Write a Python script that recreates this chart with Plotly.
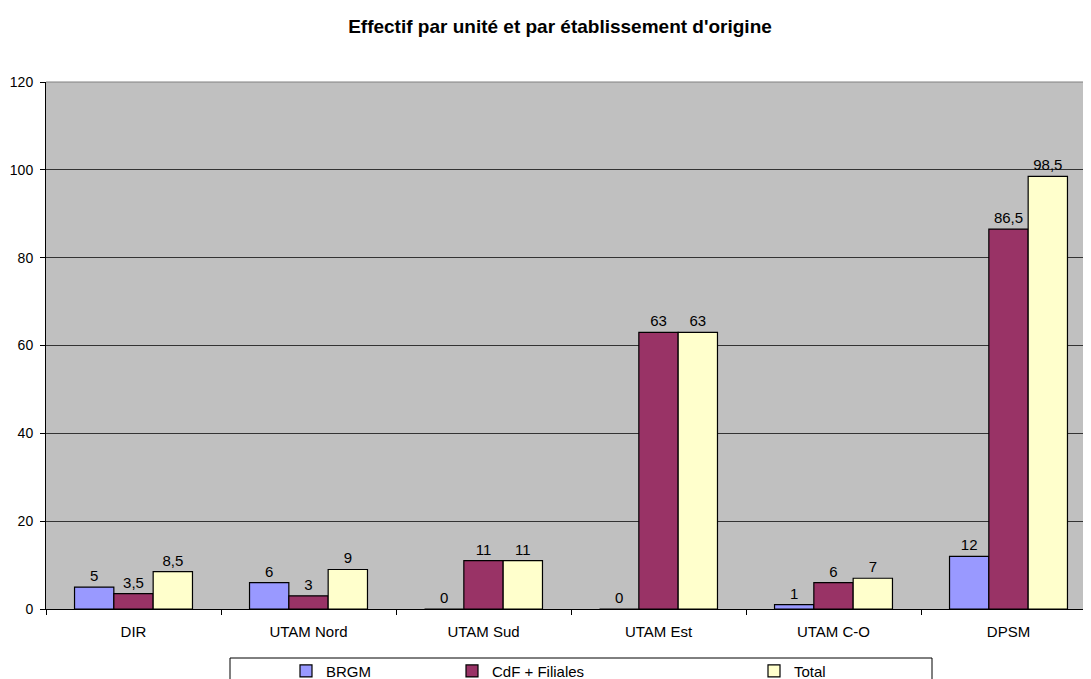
import plotly.graph_objects as go

# data
categories = ["DIR", "UTAM Nord", "UTAM Sud", "UTAM Est", "UTAM C-O", "DPSM"]
brgm = [5, 6, 0, 0, 1, 12]
cdf = [3.5, 3, 11, 63, 6, 86.5]
total = [8.5, 9, 11, 63, 7, 98.5]
y_ticks = [0, 20, 40, 60, 80, 100, 120]

series = [
    ("BRGM", brgm, "#9999FF", "legend"),
    ("CdF + Filiales", cdf, "#993366", "legend2"),
    ("Total", total, "#FFFFCC", "legend3"),
]


def fr(v):
    # French decimal comma
    s = f"{v:g}"
    return s.replace(".", ",")


fig = go.Figure()
for name, vals, col, leg in series:
    fig.add_trace(go.Bar(
        x=categories,
        y=vals,
        name=name,
        marker=dict(color=col, line=dict(color="black", width=1.2)),
        text=[fr(v) for v in vals],
        textposition="outside",
        cliponaxis=False,
        textfont=dict(size=15, color="black"),
        legend=leg,
    ))

font = "Liberation Sans, Arial, sans-serif"

# page body has an 8px margin, so the figure is 8px smaller each way
# plot area on the page: x 46..1091, y 82..609; 175 px per category
PW = 1045
leg_common = dict(
    orientation="h", yanchor="middle", y=-0.118, xanchor="left",
    bgcolor="rgba(0,0,0,0)", borderwidth=0, font=dict(size=15, color="black"),
    itemwidth=30,
)
text_starts = [322, 488, 790]
legs = {}
for key, tx in zip(["legend", "legend2", "legend3"], text_starts):
    legs[key] = dict(leg_common, x=(tx + 8 - 44 - 46) / PW)

fig.update_layout(
    width=1083, height=671,
    margin=dict(l=38, r=0, t=74, b=70, autoexpand=False),
    paper_bgcolor="white",
    plot_bgcolor="#C0C0C0",
    font=dict(family=font, size=15, color="black"),
    title=dict(
        text="<b>Effectif par unité et par établissement d'origine</b>",
        x=552 / 1083, xanchor="center", xref="container",
        y=1 - 18.5 / 671, yref="container", yanchor="middle",
        font=dict(size=19, color="black"),
    ),
    barmode="group",
    bargap=0.326,
    bargroupgap=0,
    showlegend=True,
    **legs,
    xaxis=dict(
        range=[-0.5, -0.5 + PW / 175],
        showgrid=False,
        showline=True, linecolor="black", linewidth=1,
        ticks="outside", tickson="boundaries", ticklen=5, tickcolor="black",
        ticklabelstandoff=9,
        tickfont=dict(size=15),
        zeroline=False,
    ),
    yaxis=dict(
        range=[0, 120],
        tickvals=y_ticks,
        showgrid=True, gridcolor="#333333", gridwidth=1,
        showline=True, linecolor="black", linewidth=1,
        ticks="outside", ticklen=5, tickcolor="black",
        ticklabelstandoff=4,
        tickfont=dict(size=14),
        zeroline=False,
    ),
    shapes=[
        # grey plot-area border at the top
        dict(type="line", xref="paper", yref="paper", x0=0, x1=1, y0=1, y1=1,
             line=dict(color="#808080", width=1)),
        # legend box
        dict(type="rect", xref="paper", yref="paper",
             x0=(230 - 46) / PW, x1=(932 - 46) / PW,
             y0=(609 - 658) / 527, y1=(609 - 690) / 527,
             line=dict(color="black", width=1), fillcolor="rgba(0,0,0,0)"),
    ],
)

fig.write_html("out.html")
